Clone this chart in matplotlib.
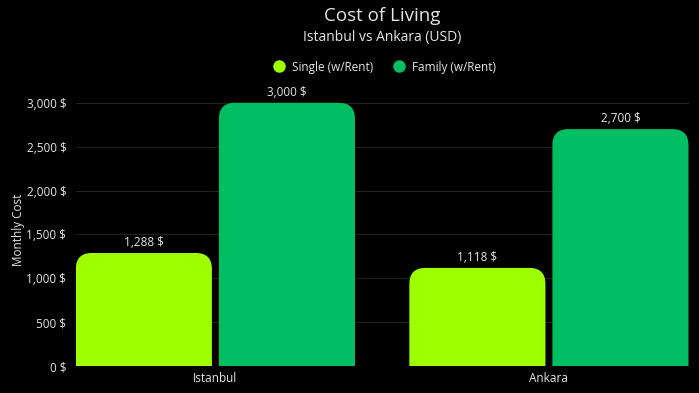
import matplotlib
matplotlib.use("Agg")
import matplotlib.pyplot as plt
from matplotlib.patches import FancyBboxPatch
from matplotlib.ticker import FuncFormatter
from matplotlib.lines import Line2D

plt.rcParams['font.family'] = ['Open Sans', 'DejaVu Sans']

cities = ["Istanbul", "Ankara"]
series_names = ["Single (w/Rent)", "Family (w/Rent)"]
single = [1288, 1118]
family = [3000, 2700]
colors = ["#9DFF00", "#00BF63"]
yticks = [0, 500, 1000, 1500, 2000, 2500, 3000]

W, H = 699, 393
fig = plt.figure(figsize=(W / 100, H / 100), dpi=100, facecolor="black")
ax_l, ax_r, ax_b, ax_t = 76, 689, 366, 94
ax = fig.add_axes([ax_l / W, (H - ax_b) / H, (ax_r - ax_l) / W, (ax_b - ax_t) / H])
ax.set_facecolor("black")
xlim = (-0.418, 1.42)
ylim = (0, 3100)
ax.set_xlim(*xlim)
ax.set_ylim(*ylim)

# units per pixel
xu = (xlim[1] - xlim[0]) / (ax_r - ax_l)
yu = (ylim[1] - ylim[0]) / (ax_b - ax_t)
r_px = 16
rx = r_px * xu
aspect = yu / xu

bw = 0.408
gap = 0.0105
txt = "#E6E6E6"
for vals, col, off in [(single, colors[0], -gap - bw / 2), (family, colors[1], gap + bw / 2)]:
    bars = ax.bar([i + off for i in range(len(cities))], vals, width=bw, color=col, alpha=0)
    for b, v in zip(bars, vals):
        x0 = b.get_x()
        p = FancyBboxPatch((x0, -r_px * yu * 2), b.get_width(), v + r_px * yu * 2,
                           boxstyle=f"round,pad=0,rounding_size={rx}",
                           mutation_aspect=aspect, facecolor=col, edgecolor="none",
                           zorder=3)
        ax.add_patch(p)
        ax.text(x0 + b.get_width() / 2, v + 4 * yu, f"{v:,} $", ha="center", va="bottom",
                color=txt, fontsize=8.5, zorder=4)

ax.set_yticks(yticks)
ax.yaxis.set_major_formatter(FuncFormatter(lambda v, p: f"{int(v):,} $"))
ax.set_xticks(range(len(cities)))
ax.set_xticklabels(cities)
ax.tick_params(axis="both", colors=txt, labelsize=8.5, length=0)
ax.tick_params(axis="y", pad=7)
ax.tick_params(axis="x", pad=4)
ax.grid(axis="y", color="#222222", linewidth=0.8, zorder=0)
ax.set_axisbelow(True)
for s in ax.spines.values():
    s.set_visible(False)
ax.set_ylabel("Monthly Cost", color=txt, fontsize=8.5, labelpad=1)

fig.text(0.5 * (ax_l + ax_r) / W - 0.0, 1 - 16 / H, "Cost of Living", ha="center", va="center",
         color=txt, fontsize=13.5)
fig.text(0.5 * (ax_l + ax_r) / W, 1 - 37 / H, "Istanbul vs Ankara (USD)", ha="center", va="center",
         color=txt, fontsize=10)

handles = [Line2D([], [], marker="o", linestyle="none", markersize=9, markerfacecolor=c,
                  markeredgecolor="none") for c in colors]
fig.legend(handles, series_names, loc="center", bbox_to_anchor=(0.546, 1 - 67 / H), ncol=2,
           frameon=False, fontsize=8.5, labelcolor=txt, handletextpad=0.1, columnspacing=1.2)

fig.savefig("out.png", dpi=100, facecolor="black")
